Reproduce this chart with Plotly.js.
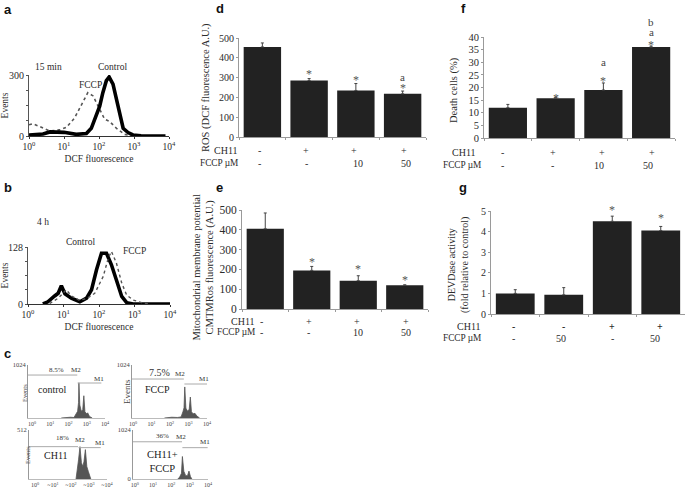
<!DOCTYPE html>
<html><head><meta charset="utf-8">
<script src="https://cdn.plot.ly/plotly-3.0.1.min.js"></script>
<style>html,body{margin:0;padding:0;background:#fff}#p{width:685px;height:488px}</style>
</head><body><div id="p"></div>
<script>
// ---- data ----
const decadeLabels = ['10<sup>0</sup>','10<sup>1</sup>','10<sup>2</sup>','10<sup>3</sup>','10<sup>4</sup>'];
const decades = [0,1,2,3,4];
const aControlX = [0,.4,.6,1,1.35,1.64,1.78,1.92,2.02,2.11,2.21,2.29,2.4,2.5,2.6,2.69,2.83,2.97,3.2,3.9];
const aControlY = [5,10,20,18,8,12,38,105,147,213,272,290,255,180,97,38,17,5,1,0];
const aFccpX = [0,.11,.3,.59,.88,1.07,1.3,1.49,1.68,1.83,1.97,2.16,2.3,2.5,2.73,2.97];
const aFccpY = [55,60,47,25,30,43,88,147,213,197,147,83,72,38,8,0];
const bControlX = [.42,.56,.75,.85,.94,1.04,1.22,1.46,1.65,1.79,1.93,2.07,2.21,2.35,2.49,2.64,2.78,2.96,4];
const bControlY = [0,5,18,24,41,23,13,5,13,32,77,114,114,88,54,17,3,0,0];
const bFccpX = [.61,.85,1.08,1.22,1.46,1.67,1.88,2.02,2.12,2.26,2.35,2.49,2.64,2.78,2.96,3.2,3.44];
const bFccpY = [1,13,32,18,8,13,24,47,62,103,118,92,47,20,9,3,0];
const c1X = [1.6,1.9,2.1,2.3,2.4,2.5,2.55,2.57,2.62,2.7,2.78,2.84,2.9,3.0,3.05,3.15,3.3];
const c1Y = [0,15,15,10,60,130,300,680,250,130,160,430,120,80,100,30,0];
const c2X = [1.7,2.1,2.4,2.6,2.7,2.76,2.8,2.86,2.95,3.04,3.1,3.16,3.25,3.35,3.45,3.6];
const c2Y = [0,15,10,20,120,200,600,190,130,170,405,120,80,90,40,0];
const c3X = [2.28,2.36,2.42,2.5,2.58,2.66,2.72,2.8,2.88,2.96,3.1];
const c3Y = [0,90,200,338,170,130,180,307,130,80,0];
const c4X = [2.35,2.45,2.55,2.6,2.68,2.78,2.88,2.96,3.04,3.12];
const c4Y = [0,40,120,470,160,70,70,165,50,0];
const gateM2X = [[-0.22,2.48],[-0.05,2.75],[-0.33,2.39],[-0.1,2.58]];
const gateM2Y = [830,753,338,778];
const gateM1X = [[2.5,3.8],[2.78,4],[2.42,3.65],[2.6,3.98]];
const gateM1Y = [676,657,328,655];

const dValues = [455,285,235,218];
const dErrors = [20,10,35,14];
const eValues = [405,195,143,120];
const eErrors = [80,20,25,2];
const fValues = [12,15.7,19,36];
const fErrors = [1.3,.3,2.8,.4];
const gValues = [1,.93,4.5,4.05];
const gErrors = [.18,.35,.25,.2];
const barIdx = [0,1,2,3];
const dCH11 = ['-','+','+','+'], dFCCP = ['-','-','10','50'];
const gCH11 = ['-','-','+','+'], gFCCP = ['-','50','-','50'];
const boundaries = [-.5,.5,1.5,2.5,3.5];

// ---- helpers ----
const W=685,H=488, SERIF='Liberation Serif', INK='#2b2b2b', GRID='#9a9a9a';
const px=v=>v/W, py=v=>1-v/H;
const layout={width:W,height:H,margin:{l:0,r:0,t:0,b:0},paper_bgcolor:'#fff',plot_bgcolor:'rgba(0,0,0,0)',
  showlegend:false,font:{family:SERIF,color:INK,size:10},annotations:[],hovermode:false};
const data=[];
function panel(n,l,r,top,bot,xa,ya){
  const s=n===1?'':n;
  layout['xaxis'+s]=Object.assign({domain:[px(l),px(r)],anchor:'y'+s,showgrid:false,zeroline:false,showline:true,ticks:'outside',
    linecolor:GRID,tickcolor:GRID,linewidth:1,tickwidth:1,ticklen:2,fixedrange:true,tickfont:{family:SERIF,size:10,color:INK}},xa);
  layout['yaxis'+s]=Object.assign({domain:[py(bot),py(top)],anchor:'x'+s,showgrid:false,zeroline:false,showline:true,ticks:'outside',
    linecolor:GRID,tickcolor:GRID,linewidth:1,tickwidth:1,ticklen:2,fixedrange:true,tickfont:{family:SERIF,size:11,color:INK}},ya);
}
function note(text,x,y,o){ layout.annotations.push(Object.assign({text,x:px(x),y:py(y),xref:'paper',yref:'paper',showarrow:false,xanchor:'center',yanchor:'middle',
  font:{family:SERIF,size:9.5,color:INK}},o||{})); }
function letter(t,x,y){ note('<b>'+t+'</b>',x,y,{font:{family:'Liberation Sans',size:13,color:'#111'},xanchor:'left'}); }
function ref(n,text,x,y,o){ const s=n===1?'':n; layout.annotations.push(Object.assign({text,x,y,xref:'x'+s,yref:'y'+s,showarrow:false,xanchor:'center',yanchor:'middle',
  font:{family:SERIF,size:10,color:INK}},o||{})); }
function line(n,x,y,o){ const s=n===1?'':n; data.push(Object.assign({type:'scatter',mode:'lines',x,y,xaxis:'x'+s,yaxis:'y'+s,hoverinfo:'skip'},o)); }

// ---- a, b : overlay histograms ----
const histX={range:[0,4],tickvals:decades,ticktext:decadeLabels,linecolor:'#333',tickcolor:'#333',tickfont:{family:SERIF,size:9.5,color:INK}};
function histY(max,minorVals){return {linecolor:'#555',tickcolor:'#555',range:[0,max],tickvals:[0,max],ticktext:['0',String(max)],
  minor:{tickmode:'array',tickvals:minorVals,ticks:'outside',ticklen:2,tickcolor:'#555'},tickfont:{family:SERIF,size:10,color:INK}}}
panel(1,29,169,75,136,Object.assign({},histX),histY(300,[75,150,225]));
panel(2,28,170,247,304,Object.assign({},histX),histY(128,[32,64,96]));
const t9={family:SERIF,size:9.5,color:INK};
layout.yaxis.title={text:'Events',standoff:4,font:t9};
layout.xaxis.title={text:'DCF fluorescence',standoff:3,font:t9};
layout.yaxis2.title={text:'Events',standoff:4,font:t9};
layout.xaxis2.title={text:'DCF fluorescence',standoff:3,font:t9};
line(1,aFccpX,aFccpY,{line:{color:'#555',width:1.6,dash:'3px,3px'}});
line(1,aControlX,aControlY,{line:{color:'#000',width:3.6}});
line(2,bControlX,bControlY,{line:{color:'#000',width:3.6}});
line(2,bFccpX,bFccpY,{line:{color:'#555',width:1.4,dash:'3px,3px'}});
note('15 min',48,67); note('Control',112,67); note('FCCP',90,85);
note('4 h',43,222); note('Control',80,242); note('FCCP',134,251);

// ---- c : gated histograms ----
const cPanels=[
 {n:3,l:28,r:105,t:365,b:418,lo:-.22,max:1024,x:c1X,y:c1Y,lab:decadeLabels},
 {n:4,l:132,r:207,t:365,b:418,lo:-.05,max:1024,x:c2X,y:c2Y,lab:decadeLabels},
 {n:5,l:29,r:107,t:430,b:479,lo:-.33,max:512,x:c3X,y:c3Y,lab:['10<sup>0</sup>','~10<sup>1</sup>','~10<sup>2</sup>','~10<sup>3</sup>','~10<sup>4</sup>']},
 {n:6,l:133,r:208,t:430,b:479,lo:-.1,max:1024,x:c4X,y:c4Y,lab:decadeLabels}];
cPanels.forEach((c,i)=>{
  const yTicks=c.n===6?[0,c.max]:[c.max];
  panel(c.n,c.l,c.r,c.t,c.b,{range:[c.lo,4],tickvals:decades,ticktext:c.lab,ticks:'',linecolor:'#bbb',tickfont:{family:SERIF,size:6,color:'#444'}},
   {range:[0,c.max],tickvals:yTicks,ticktext:yTicks.map(String),ticks:'',linecolor:'#999',tickfont:{family:SERIF,size:6.5,color:'#444'}});
  line(c.n,c.x,c.y,{fill:'tozeroy',fillcolor:'#555',line:{color:'#555',width:.8}});
  line(c.n,gateM2X[i],[gateM2Y[i],gateM2Y[i]],{line:{color:'#aaa',width:1}});
  line(c.n,gateM1X[i],[gateM1Y[i],gateM1Y[i]],{line:{color:'#aaa',width:1}});
});
const small={font:{family:SERIF,size:7,color:'#333'}};
const big={font:{family:SERIF,size:10,color:'#222'}};
note('Events',24,393,{textangle:-90,font:{family:SERIF,size:6.5,color:'#444'}});
note('Events',127,392,{textangle:-90,font:{family:SERIF,size:9,color:'#444'}});
note('Events',27,455,{textangle:-90,font:{family:SERIF,size:6.5,color:'#444'}});
note('8.5%',56,370,small); note('M2',76,370,small); note('M1',99,379,small); note('control',52,389,big);
note('7.5%',159,372,{font:{family:SERIF,size:10,color:'#333'}}); note('M2',180,374,small); note('M1',204,379,small); note('FCCP',157,389,big);
note('18%',63,438,small); note('M2',80,440,small); note('M1',100,443,small); note('CH11',56,455,{font:{family:SERIF,size:10,color:'#222'}});
note('36%',162,436,small); note('M2',181,437,small); note('M1',205,442,small); note('CH11+<br>FCCP',162,461,{font:{family:SERIF,size:10.5,color:'#222'}});

// ---- d, e, f, g : bars ----
function bars(n,l,r,t,b,yr,dt,vals,errs,tickSize){
  panel(n,l,r,t,b,{range:[-.5,3.5],tickvals:boundaries,showticklabels:false,ticklen:2},
    {range:[0,yr],dtick:dt,tickfont:{family:SERIF,size:tickSize,color:INK}});
  const s=n===1?'':n;
  data.push({type:'bar',x:barIdx,y:vals,width:.8,xaxis:'x'+s,yaxis:'y'+s,marker:{color:'#222',line:{width:0}},hoverinfo:'skip',
    error_y:{type:'data',symmetric:false,array:errs,arrayminus:errs.map(()=>0),color:'#444',thickness:1,width:1.5}});
}
bars(7,239,426,38,137,500,100,dValues,dErrors,10);
bars(8,242,428,210,309,500,100,eValues,eErrors,11.5);
bars(9,484,675,37,138,40,5,fValues,fErrors,10.5);
bars(10,491,685,211,314,5,1,gValues,gErrors,10);
const axisT={family:SERIF,size:10.5,color:INK};
note('ROS (DCF fluorescence A.U.)',206,88,{textangle:-90,font:axisT});
note('Mitochondrial membrane potential<br>CMTMRos fluorescence (A.U.)',203.5,268,{textangle:-90,font:axisT});
note('Death cells (%)',454,90,{textangle:-90,font:{family:SERIF,size:10.5,color:INK}});
note('DEVDase activity<br>(fold relative to control)',458,265,{textangle:-90,font:{family:SERIF,size:10,color:INK}});

function rows(n,y1,y2,ch1R,fcR,ch,fc,shiftC,shiftF,bold){
  const s=n===1?'':n, f={family:SERIF,size:10,color:INK};
  ch.forEach((t,i)=>{
    layout.annotations.push({text:bold?'<b>'+t+'</b>':t,x:i,xshift:shiftC[i],y:py(y1),xref:'x'+s,yref:'paper',showarrow:false,font:f,yanchor:'middle'});
    layout.annotations.push({text:fc[i],x:i,xshift:shiftF[i],y:py(y2),xref:'x'+s,yref:'paper',showarrow:false,font:f,yanchor:'middle'});
  });
  note('CH11',ch1R,y1,{xanchor:'right',font:f});
  note('FCCP µM',fcR,y2,{xanchor:'right',font:{family:SERIF,size:9.3,color:INK}});
}
rows(7,151,163,240,240,dCH11,dFCCP,[-3,-3,-2,1],[-3,-3,2,3],false);
rows(8,321,332,257,257,dCH11,dFCCP,[-4,-3,-1,1],[-4,-3,0,1],false);
rows(9,152,165,478,483,dCH11,dFCCP,[-5,-3,-1,1],[-5,-3,-4,-3],false);
rows(10,326,338,483,483,gCH11,gFCCP,[-2,0,0,-1],[-2,-3,0,-6],true);

const star={font:{family:SERIF,size:12,color:'#555'}};
const mark={font:{family:SERIF,size:11,color:'#444'}};
ref(7,'*',1,318,star); ref(7,'*',2,288,star); ref(7,'*',3,248,star); ref(7,'a',3,303,mark);
ref(8,'*',1,237,star); ref(8,'*',2,202,star); ref(8,'*',3,147,star);
ref(9,'*',1,16,star); ref(9,'*',2,22.5,star); ref(9,'*',3,36.8,star); ref(9,'a',2,30,mark);
ref(9,'a',3,40,Object.assign({yshift:5},mark)); ref(9,'b',3,40,Object.assign({yshift:15},mark));
ref(10,'*',2,5,Object.assign({yshift:1},star)); ref(10,'*',3,4.65,star);

letter('a',2,10); letter('b',2,187); letter('c',2,353); letter('d',214,9); letter('e',214,187); letter('f',459,9); letter('g',457,187);

Plotly.newPlot('p',data,layout,{displayModeBar:false,staticPlot:true});
</script></body></html>
